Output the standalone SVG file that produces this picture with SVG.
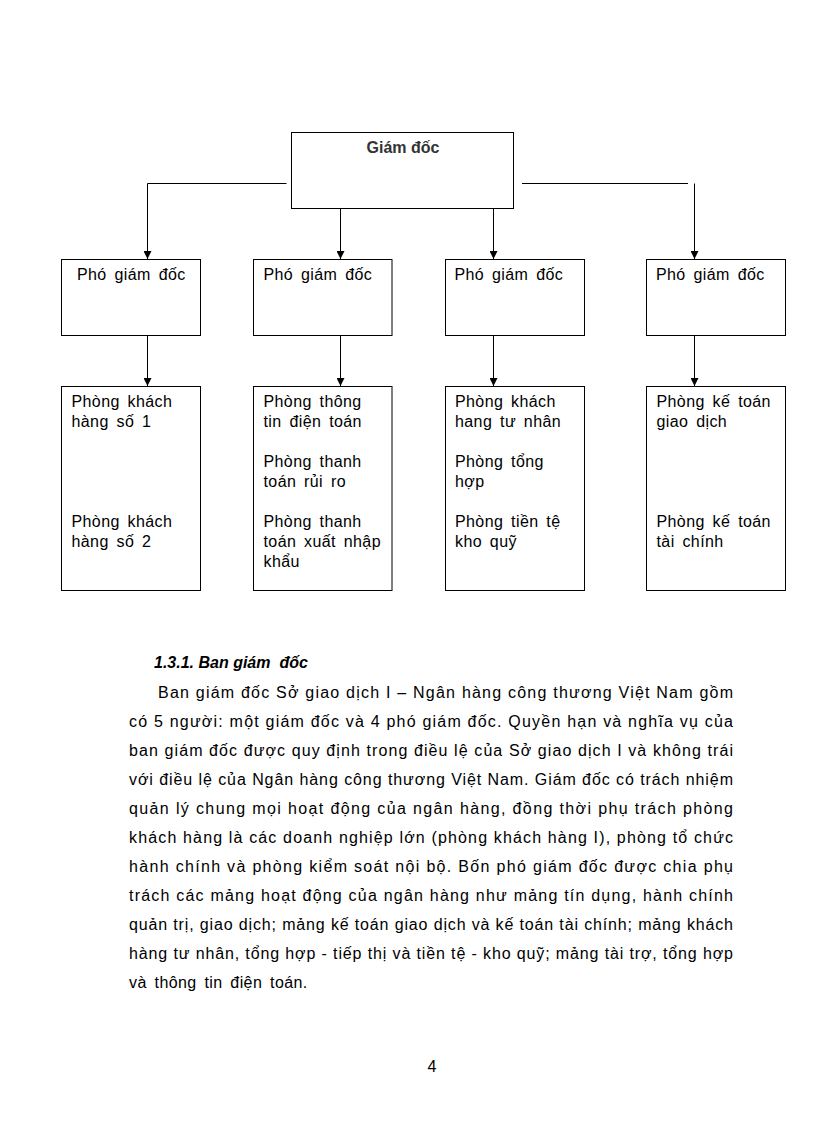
<svg xmlns="http://www.w3.org/2000/svg" width="816" height="1123" viewBox="0 0 816 1123">
<style>
.box{fill:#fff;stroke:#000;stroke-width:1}
.lbl{font-family:"Liberation Sans",Arial,sans-serif;font-size:16px;fill:#000;letter-spacing:0.4px;word-spacing:3px}
.top{font-family:"Liberation Sans",Arial,sans-serif;font-size:16px;font-weight:bold;fill:#333}
.con{stroke:#000;stroke-width:1;fill:none}
.body{font-family:"Liberation Sans",Arial,sans-serif;font-size:16px;fill:#000}
.head{font-family:"Liberation Sans",Arial,sans-serif;font-size:16px;font-weight:bold;font-style:italic;fill:#000}
</style>
<defs>
<marker id="arr" markerUnits="userSpaceOnUse" markerWidth="8" markerHeight="8" refX="8" refY="4" orient="auto">
<path d="M0,0 L8,4 L0,8 z" fill="#000"/>
</marker>
</defs>
<rect width="816" height="1123" fill="#fff"/>

<g id="connectors">
<polyline class="con" points="286.5,183.5 147.5,183.5 147.5,259" marker-end="url(#arr)"/>
<line class="con" x1="522" y1="183.5" x2="688" y2="183.5"/>
<line class="con" x1="694.5" y1="183.5" x2="694.5" y2="259" marker-end="url(#arr)"/>
<line class="con" x1="340.5" y1="209" x2="340.5" y2="259" marker-end="url(#arr)"/>
<line class="con" x1="493.5" y1="209" x2="493.5" y2="259" marker-end="url(#arr)"/>
<line class="con" x1="147.5" y1="336" x2="147.5" y2="386" marker-end="url(#arr)"/>
<line class="con" x1="340.5" y1="336" x2="340.5" y2="386" marker-end="url(#arr)"/>
<line class="con" x1="493.5" y1="336" x2="493.5" y2="386" marker-end="url(#arr)"/>
<line class="con" x1="694.5" y1="336" x2="694.5" y2="386" marker-end="url(#arr)"/>
</g>

<g id="giam-doc">
<rect class="box" x="291.5" y="132.5" width="222" height="76"/>
<text class="top" x="403" y="153" text-anchor="middle">Giám đốc</text>
</g>

<g id="pgd1">
<rect class="box" x="61.5" y="259.5" width="139" height="76"/>
<text class="lbl" x="77" y="280">Phó giám đốc</text>
</g>
<g id="pgd2">
<rect class="box" x="253.5" y="259.5" width="138.5" height="76"/>
<text class="lbl" x="263.5" y="280">Phó giám đốc</text>
</g>
<g id="pgd3">
<rect class="box" x="445.5" y="259.5" width="139" height="76"/>
<text class="lbl" x="454.5" y="280">Phó giám đốc</text>
</g>
<g id="pgd4">
<rect class="box" x="646.5" y="259.5" width="139" height="76"/>
<text class="lbl" x="656" y="280">Phó giám đốc</text>
</g>

<g id="phong1">
<rect class="box" x="61.5" y="386.5" width="139" height="204"/>
<text class="lbl" x="71.5" y="407">Phòng khách</text>
<text class="lbl" x="71.5" y="427">hàng số 1</text>
<text class="lbl" x="71.5" y="527">Phòng khách</text>
<text class="lbl" x="71.5" y="547">hàng số 2</text>
</g>
<g id="phong2">
<rect class="box" x="253.5" y="386.5" width="138.5" height="204"/>
<text class="lbl" x="263.5" y="407">Phòng thông</text>
<text class="lbl" x="263.5" y="427">tin điện toán</text>
<text class="lbl" x="263.5" y="467">Phòng thanh</text>
<text class="lbl" x="263.5" y="487">toán rủi ro</text>
<text class="lbl" x="263.5" y="527">Phòng thanh</text>
<text class="lbl" x="263.5" y="547">toán xuất nhập</text>
<text class="lbl" x="263.5" y="567">khẩu</text>
</g>
<g id="phong3">
<rect class="box" x="445.5" y="386.5" width="139" height="204"/>
<text class="lbl" x="455" y="407">Phòng khách</text>
<text class="lbl" x="455" y="427">hang tư nhân</text>
<text class="lbl" x="455" y="467">Phòng tổng</text>
<text class="lbl" x="455" y="487">hợp</text>
<text class="lbl" x="455" y="527">Phòng tiền tệ</text>
<text class="lbl" x="455" y="547">kho quỹ</text>
</g>
<g id="phong4">
<rect class="box" x="646.5" y="386.5" width="139" height="204"/>
<text class="lbl" x="656.5" y="407">Phòng kế toán</text>
<text class="lbl" x="656.5" y="427">giao dịch</text>
<text class="lbl" x="656.5" y="527">Phòng kế toán</text>
<text class="lbl" x="656.5" y="547">tài chính</text>
</g>

<g id="text">
<text class="head" x="154" y="668" xml:space="preserve">1.3.1. Ban giám  đốc</text>
<text class="body" x="158" y="698" textLength="575" lengthAdjust="spacing">Ban giám đốc Sở giao dịch I – Ngân hàng công thương Việt Nam gồm</text>
<text class="body" x="129" y="727" textLength="604" lengthAdjust="spacing">có 5 người: một giám đốc và 4 phó giám đốc. Quyền hạn và nghĩa vụ của</text>
<text class="body" x="129" y="756" textLength="604" lengthAdjust="spacing">ban giám đốc được quy định trong điều lệ của Sở giao dịch I và không trái</text>
<text class="body" x="129" y="785" textLength="604" lengthAdjust="spacing">với điều lệ của Ngân hàng công thương Việt Nam. Giám đốc có trách nhiệm</text>
<text class="body" x="129" y="814" textLength="604" lengthAdjust="spacing">quản lý chung mọi hoạt động của ngân hàng, đồng thời phụ trách phòng</text>
<text class="body" x="129" y="843" textLength="604" lengthAdjust="spacing">khách hàng là các doanh nghiệp lớn (phòng khách hàng I), phòng tổ chức</text>
<text class="body" x="129" y="872" textLength="604" lengthAdjust="spacing">hành chính và phòng kiểm soát nội bộ. Bốn phó giám đốc được chia phụ</text>
<text class="body" x="129" y="901" textLength="604" lengthAdjust="spacing">trách các mảng hoạt động của ngân hàng như mảng tín dụng, hành chính</text>
<text class="body" x="129" y="930" textLength="604" lengthAdjust="spacing">quản trị, giao dịch; mảng kế toán giao dịch và kế toán tài chính; mảng khách</text>
<text class="body" x="129" y="959" textLength="604" lengthAdjust="spacing">hàng tư nhân, tổng hợp - tiếp thị và tiền tệ - kho quỹ; mảng tài trợ, tổng hợp</text>
<text class="body" x="129" y="988" letter-spacing="0.4" word-spacing="3">và thông tin điện toán.</text>
<text class="body" x="432" y="1072" text-anchor="middle">4</text>
</g>
</svg>
